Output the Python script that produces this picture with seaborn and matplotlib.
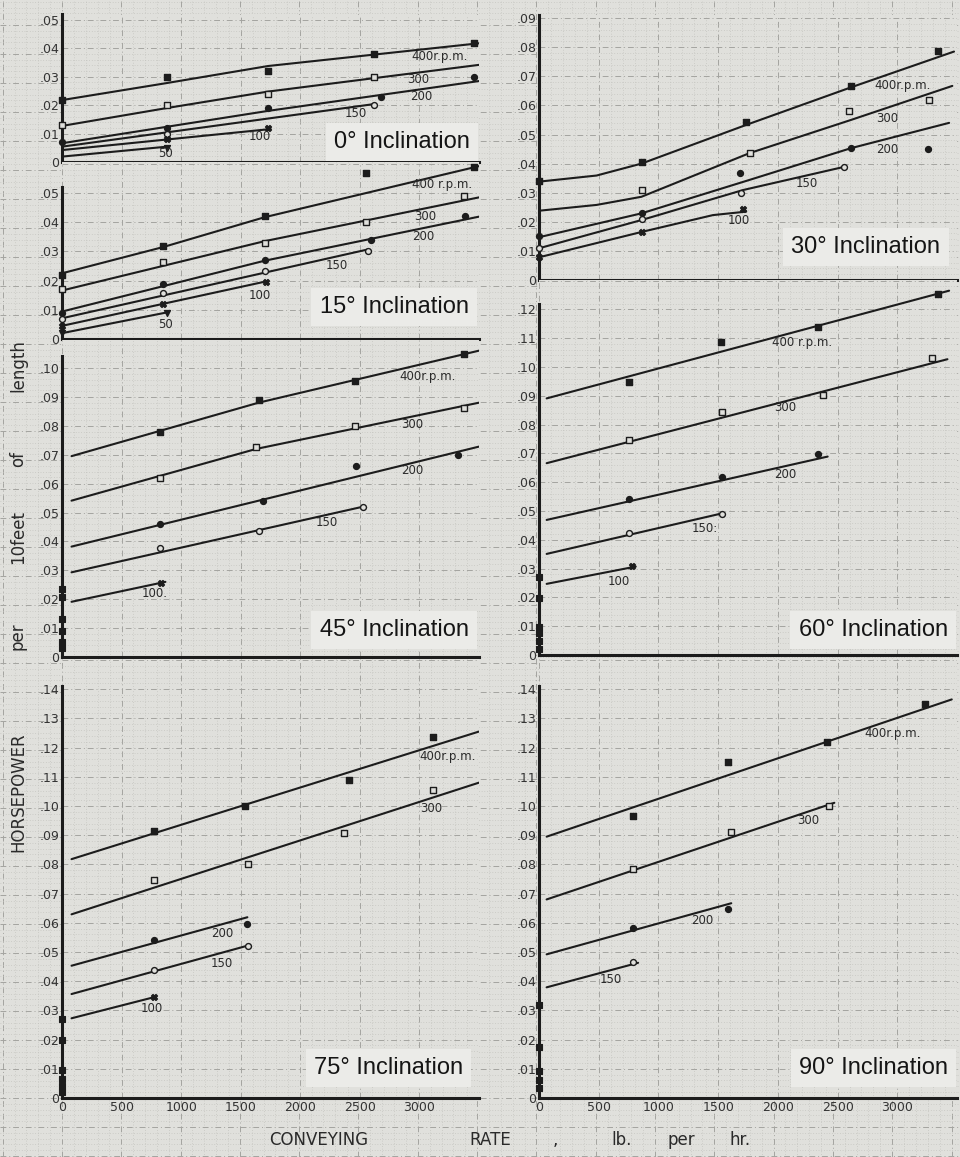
"""
Conveyor horsepower per 10 ft of length vs conveying rate, six inclinations.
Recreated from a scanned graph-paper figure.
"""
import numpy as np
import pandas as pd
import matplotlib
matplotlib.use("Agg")
import matplotlib.pyplot as plt
from matplotlib.ticker import MultipleLocator
import seaborn as sns

# ---- data: (rate lb/hr, horsepower per 10 ft) ----
# fitted curves, per r.p.m.
FIT_00 = {"400": [(0, .0218), (880, .0278), (1730, .0338), (3500, .0418)],
          "300": [(0, .0127), (880, .0190), (1730, .0248), (3500, .0342)],
          "200": [(0, .0066), (1730, .0180), (3500, .0285)],
          "150": [(0, .0054), (2620, .0204)],
          "100": [(0, .0042), (1750, .0116)],
          "50": [(0, .0019), (880, .0054)]}
FIT_15 = {"400": [(0, .0225), (850, .0315), (1700, .0417), (3500, .0592)],
          "300": [(0, .0166), (1700, .0335), (3500, .0485)],
          "200": [(0, .0094), (1700, .0268), (3500, .0419)],
          "150": [(0, .0071), (2570, .0307)],
          "100": [(0, .0045), (1710, .0197)],
          "50": [(0, .0020), (880, .0091)]}
FIT_30 = {"400": [(0, .0338), (482, .0359), (858, .0400), (1735, .0533), (2612, .0662), (3475, .0785)],
          "300": [(0, .0238), (482, .0258), (858, .0286), (1763, .0436), (2612, .0550), (3461, .0667)],
          "200": [(0, .0147), (858, .0229), (1763, .0344), (2612, .0453), (3434, .0540)],
          "150": [(0, .0109), (858, .0206), (1707, .0309), (2557, .0389)],
          "100": [(0, .0078), (858, .0165), (1456, .0223), (1735, .0235)]}
FIT_45 = {"400": [(80, .0695), (1650, .0880), (3500, .1060)],
          "300": [(80, .0541), (1630, .0720), (3500, .0880)],
          "200": [(80, .0382), (3500, .0728)],
          "150": [(80, .0293), (2525, .0520)],
          "100": [(80, .0191), (868, .0260)]}
FIT_60 = {"400": [(64, .0891), (3434, .1265)],
          "300": [(64, .0666), (3420, .1027)],
          "200": [(64, .0469), (2417, .0689)],
          "150": [(64, .0351), (1535, .0492)],
          "100": [(64, .0247), (810, .0307)]}
FIT_75 = {"400": [(80, .0818), (3500, .1255)],
          "300": [(80, .0629), (3500, .1080)],
          "200": [(80, .0453), (1556, .0619)],
          "150": [(80, .0356), (1560, .0522)],
          "100": [(80, .0273), (770, .0345)]}
FIT_90 = {"400": [(64, .0895), (3456, .1365)],
          "300": [(64, .0680), (2473, .1011)],
          "200": [(64, .0492), (1610, .0667)],
          "150": [(64, .0379), (830, .0463)]}

# measured points, per r.p.m.
PTS_00 = {"400": [(0, .022), (880, .030), (1730, .032), (2620, .038), (3460, .042)],
          "300": [(0, .013), (880, .020), (1730, .024), (2620, .030)],
          "200": [(0, .007), (880, .012), (1730, .019), (2680, .023), (3460, .030)],
          "150": [(880, .010), (2620, .020)],
          "100": [(880, .008), (1730, .012)],
          "50": [(880, .005)]}
PTS_15 = {"400": [(0, .022), (850, .032), (1700, .042), (2550, .057), (3460, .059)],
          "300": [(0, .017), (850, .0265), (1700, .033), (2550, .040), (3370, .049)],
          "200": [(0, .009), (850, .019), (1700, .027), (2590, .034), (3380, .042)],
          "150": [(0, .007), (850, .0157), (1700, .0234), (2570, .030)],
          "100": [(0, .0045), (850, .012), (1710, .0195)],
          "50": [(0, .002), (880, .009)]}
PTS_30 = {"400": [(0, .034), (860, .0407), (1735, .0544), (2612, .0665), (3340, .0787)],
          "300": [(860, .031), (1763, .0436), (2593, .058), (3267, .062)],
          "200": [(0, .015), (860, .023), (1680, .0367), (2612, .0453), (3253, .0449)],
          "150": [(0, .011), (860, .021), (1690, .030), (2557, .0389)],
          "100": [(0, .008), (860, .0165), (1710, .0244)]}
PTS_45 = {"400": [(820, .078), (1650, .089), (2460, .0955), (3370, .1047)],
          "300": [(820, .062), (1630, .0726), (2460, .080), (3370, .086)],
          "200": [(820, .046), (1690, .054), (2465, .066), (3320, .070)],
          "150": [(820, .0376), (1650, .0436), (2525, .052)],
          "100": [(830, .0255)]}
PTS_60 = {"400": [(752, .0949), (1526, .1088), (2339, .114), (3344, .1253)],
          "300": [(752, .0747), (1535, .0845), (2375, .0902), (3289, .1031)],
          "200": [(752, .0541), (1535, .0617), (2339, .0698)],
          "150": [(752, .0425), (1535, .049)],
          "100": [(780, .031)]}
PTS_75 = {"400": [(770, .0914), (1540, .100), (2405, .109), (3115, .1237)],
          "300": [(770, .0747), (1560, .080), (2370, .0909), (3110, .1055)],
          "200": [(770, .0541), (1550, .0596)],
          "150": [(770, .0438), (1560, .052)],
          "100": [(770, .0347)]}
PTS_90 = {"400": [(790, .0967), (1581, .115), (2412, .122), (3231, .1348)],
          "300": [(790, .0783), (1610, .0912), (2426, .100)],
          "200": [(790, .0583), (1581, .0646)],
          "150": [(790, .0467)]}

# no-load readings (rate = 0) on the steep panels
IDLE_45 = [.0234, .0208, .013, .009, .0053, .003]
IDLE_60 = [.0272, .0197, .0098, .0075, .0049, .002]
IDLE_75 = [.027, .020, .0095, .0065, .004, .002]
IDLE_90 = [.0318, .0176, .0093, .0062, .0033]

RATE_TICKS = [0, 500, 1000, 1500, 2000, 2500, 3000]

# ---- layout (pixels on a 960x1157 canvas) ----
W, H = 960, 1157
PAPER = "#e0e0dc"
BOX = "#ebebe8"
INK = "#1c1c1c"
GRID_MAJ = dict(color="#a4a4a0", ls=(0, (6, 3, 1, 3)), lw=0.7)
GRID_MIN = dict(color="#c0c0bb", ls=(0, (1, 2.5)), lw=0.55)

# label placement for each curve: rpm -> (rate, hp, text)
CURVE_LBL = {
    "0": {"400": (2930, .037, "400r.p.m."), "300": (2900, .029, "300"), "200": (2920, .023, "200"),
          "150": (2370, .017, "150"), "100": (1570, .009, "100"), "50": (810, .003, "50")},
    "15": {"400": (2940, .053, "400 r.p.m."), "300": (2960, .042, "300"), "200": (2940, .035, "200"),
           "150": (2215, .025, "150"), "100": (1570, .015, "100"), "50": (810, .0048, "50")},
    "30": {"400": (2810, .067, "400r.p.m."), "300": (2825, .0556, "300"), "200": (2825, .045, "200"),
           "150": (2150, .0332, "150"), "100": (1580, .0206, "100")},
    "45": {"400": (2830, .097, "400r.p.m."), "300": (2850, .0805, "300"), "200": (2850, .0644, "200"),
           "150": (2130, .0465, "150"), "100": (670, .0218, "100.")},
    "60": {"400": (1955, .1085, "400 r.p.m."), "300": (1970, .086, "300"), "200": (1970, .0625, "200"),
           "150": (1280, .044, "150:"), "100": (575, .0255, "100")},
    "75": {"400": (3000, .117, "400r.p.m."), "300": (3010, .099, "300"), "200": (1250, .0564, "200"),
           "150": (1250, .046, "150"), "100": (660, .0305, "100")},
    "90": {"400": (2725, .1249, "400r.p.m."), "300": (2165, .0949, "300"), "200": (1270, .0607, "200"),
           "150": (510, .0407, "150")},
}

# angle: (fit, pts, idle, left, top, right, bottom, px per hp, spine top, title x, title y, bottom row)
PANELS = [
    ("0", FIT_00, PTS_00, [], 62, 15, 479, 162, 2840, .052, .978, .136, False),
    ("15", FIT_15, PTS_15, [], 62, 162, 479, 339, 2920, .052, .975, .18, False),
    ("45", FIT_45, PTS_45, IDLE_45, 62, 340, 479, 657, 2890, .104, .975, .085, False),
    ("75", FIT_75, PTS_75, IDLE_75, 62, 659, 479, 1098, 2920, .141, .962, .068, True),
    ("30", FIT_30, PTS_30, [], 539, 15, 957, 280, 2910, .091, .96, .125, False),
    ("60", FIT_60, PTS_60, IDLE_60, 539, 280, 957, 655, 2880, .122, .978, .067, False),
    ("90", FIT_90, PTS_90, IDLE_90, 539, 659, 957, 1098, 2920, .141, .978, .068, True),
]

MARK = {"400": ("s", True), "300": ("s", False), "200": ("o", True),
        "150": ("o", False), "100": ("X", True), "50": ("v", True)}

sns.set_style("white")
plt.rcParams["font.family"] = ["DejaVu Sans"]
NARROW = ["Liberation Sans Narrow", "DejaVu Sans Condensed", "Liberation Sans", "DejaVu Sans"]


def hp_label(v, top):
    if v > top + 1e-9:
        return ""
    if v < 1e-9:
        return "0"
    return ("%.2f" % v)[1:]


fig = plt.figure(figsize=(W / 100, H / 100), dpi=100, facecolor=PAPER)

# graph paper behind everything (shows in the gaps between panels)
bg = fig.add_axes([0, 0, 1, 1], zorder=-1)
bg.set_xlim(0, W); bg.set_ylim(H, 0)
bg.set_facecolor(PAPER)
bg.set_xticks(np.arange(62 - 59.3, W, 59.3))
bg.set_xticks(np.arange(62 - 59.3, W, 59.3 / 5), minor=True)
bg.set_yticks(np.arange(1098 + 29 * 2, -1, -29.0))
bg.set_yticks(np.arange(1098 + 29 * 2, -1, -29.0 / 5), minor=True)
bg.grid(which="major", **GRID_MAJ)
bg.grid(which="minor", **GRID_MIN)
bg.tick_params(which="both", length=0, labelbottom=False, labelleft=False)
for s in bg.spines.values():
    s.set_visible(False)

for (ang, fit_d, pts_d, idle, l, t, r, b, scale, spine_top,
     tx, ty, bottom_row) in PANELS:
    ax = fig.add_axes([l / W, 1 - b / H, (r - l) / W, (b - t) / H])
    ymax = (b - t) / scale
    ax.set_facecolor(PAPER)
    ax.set_xlim(0, 3500)
    ax.set_ylim(0, ymax)

    # paper grid
    ax.set_xticks(np.arange(0, 3501, 500))
    ax.xaxis.set_minor_locator(MultipleLocator(100))
    yt = np.round(np.arange(0, ymax + 1e-9, 0.01), 2)
    ax.set_yticks(yt)
    ax.yaxis.set_minor_locator(MultipleLocator(0.002))
    ax.grid(which="major", **GRID_MAJ)
    ax.grid(which="minor", **GRID_MIN)
    ax.set_axisbelow(True)

    ax.set_yticklabels([hp_label(v, spine_top) for v in yt])
    if bottom_row:
        ax.set_xticklabels([str(v) if v in RATE_TICKS else "" for v in range(0, 3501, 500)])
    else:
        ax.tick_params(labelbottom=False)
    ax.tick_params(which="both", length=0, pad=2, labelsize=9, labelcolor="#333333")

    for side in ["top", "right"]:
        ax.spines[side].set_visible(False)
    ax.spines["left"].set_linewidth(2.2)
    ax.spines["left"].set_color(INK)
    ax.spines["left"].set_bounds(0, spine_top)
    ax.spines["bottom"].set_linewidth(2.2)
    ax.spines["bottom"].set_color(INK)

    # fitted curves
    fit = pd.concat([pd.DataFrame(v, columns=["rate", "hp"]).assign(rpm=k)
                     for k, v in fit_d.items()], ignore_index=True)
    sns.lineplot(data=fit, x="rate", y="hp", units="rpm", estimator=None, sort=False,
                 color=INK, lw=1.5, ax=ax, legend=False)

    # measured points
    for rpm, pts in pts_d.items():
        df = pd.DataFrame(pts, columns=["rate", "hp"])
        m, filled = MARK[rpm]
        sns.scatterplot(data=df, x="rate", y="hp", marker=m, s=18,
                        color=INK if filled else PAPER, edgecolor=INK, linewidth=1.0,
                        ax=ax, zorder=4, clip_on=False, legend=False)
    if idle:
        idle_df = pd.DataFrame({"rate": [0] * len(idle), "hp": idle})
        sns.scatterplot(data=idle_df, x="rate", y="hp", marker="s", s=22, color=INK,
                        edgecolor=INK, linewidth=0.8, ax=ax, zorder=8, clip_on=False,
                        legend=False)

    for rpm, (x, y, txt) in CURVE_LBL[ang].items():
        ax.text(x, y, txt, fontsize=8.5, color="#2a2a2a", ha="left", va="center", zorder=6)

    ax.text(tx, ty, f"{ang}° Inclination", transform=ax.transAxes, ha="right", va="center",
            fontsize=17, family=NARROW, color="#151515", zorder=7,
            bbox=dict(boxstyle="square,pad=0.35", fc=BOX, ec="none"))
    ax.set_xlabel(""); ax.set_ylabel("")

# axis titles, spaced out like the original lettering
for word, y in [("length", 366), ("of", 459), ("10feet", 537), ("per", 636), ("HORSEPOWER", 792)]:
    fig.text(18 / W, 1 - y / H, word, rotation=90, ha="center", va="center",
             fontsize=12, color="#2a2a2a")
for word, x in [("CONVEYING", 319), ("RATE", 490), (",", 555), ("lb.", 622), ("per", 681), ("hr.", 740)]:
    fig.text(x / W, 1 - 1140 / H, word, ha="center", va="center", fontsize=12, color="#2a2a2a")

fig.savefig("out.png", dpi=100, facecolor=PAPER)
